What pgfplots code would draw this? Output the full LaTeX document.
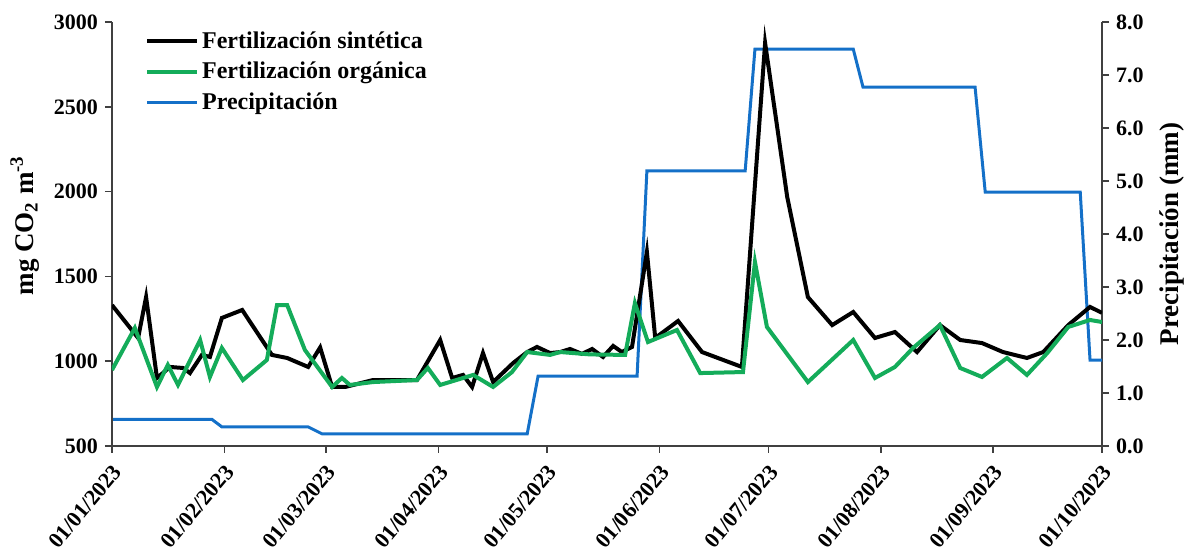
\documentclass[border=0pt]{standalone}
\usepackage{fontspec}
\setmainfont{Liberation Serif}
\usepackage{pgfplots}
\pgfplotsset{compat=1.18}
\definecolor{gorg}{RGB}{20,172,90}
\definecolor{bprec}{RGB}{20,112,200}
\definecolor{axc}{RGB}{64,64,64}
\begin{document}
\begin{tikzpicture}
\pgfplotsset{
 common/.style={
  scale only axis, width=495pt, height=212pt,
  xmin=0, xmax=273,
  axis line style={axc, line width=0.75pt},
  tick style={axc, line width=0.75pt},
  tick align=outside, major tick length=3.5pt,
  /pgf/number format/assume math mode=true,
  every tick label/.append style={font=\bfseries\fontsize{11}{13}\selectfont, text=black},
  label style={font=\bfseries\fontsize{13.5}{15}\selectfont},
 }
}
\begin{axis}[common,
  ymin=0, ymax=8,
  axis y line*=right, axis x line=none,
  ytick={0,1,2,3,4,5,6,7,8},
  yticklabel style={/pgf/number format/.cd, fixed, fixed zerofill, precision=1},
  ylabel={Precipitación (mm)},
  ylabel style={at={(axis description cs:1.071,0.5)}, anchor=center},
]
\addplot[bprec, line width=1.5pt] coordinates {
(0,0.50) (27.6,0.50) (30.3,0.36) (54.1,0.36) (57.9,0.23) (114.5,0.23)
(117.5,1.32) (144.8,1.32) (147.5,5.19) (174.6,5.19) (177.3,7.49) (204.4,7.49)
(207.1,6.77) (238,6.77) (240.8,4.79) (267,4.79) (269.7,1.62) (273,1.62)
};
\end{axis}
\begin{axis}[common,
  ymin=500, ymax=3000,
  axis x line*=bottom, axis y line*=left,
  xtick={0,31,59,90,120,151,181,212,243,273},
  xticklabels={01/01/2023,01/02/2023,01/03/2023,01/04/2023,01/05/2023,01/06/2023,01/07/2023,01/08/2023,01/09/2023,01/10/2023},
  xticklabel style={rotate=50, anchor=north east, inner sep=1pt, xshift=-3pt, yshift=-2pt},
  ytick={500,1000,1500,2000,2500,3000},
  yticklabel style={/pgf/number format/.cd, 1000 sep={}},
  ylabel={mg CO\textsubscript{2} m\textsuperscript{-3}},
  ylabel style={at={(axis description cs:-0.088,0.52)}, anchor=center},
  legend style={at={(0.027,0.995)}, anchor=north west, draw=none, fill=none,
    font=\bfseries\fontsize{12}{14}\selectfont, row sep=2.5pt, nodes={inner sep=1.5pt}},
  legend cell align=left,
  legend image code/.code={\draw[#1] (0pt,0pt) -- (25pt,0pt);},
]
\addplot[black, line width=2pt] coordinates {
(0,1331) (7.2,1137) (9.4,1378) (12.4,901) (16.0,966) (19.6,960) (21.5,930)
(24.8,1037) (27.0,1025) (30.3,1255) (35.9,1302) (44.1,1037) (48.3,1019)
(54.1,966) (57.4,1081) (60.7,848) (64.3,848) (72.0,889) (84.1,889)
(90.5,1125) (93.8,901) (96.8,919) (99.3,848) (102.3,1048) (105.1,877)
(110.6,989) (114.5,1054) (117.2,1084) (120.8,1048) (123.6,1054) (126.3,1072)
(129.6,1043) (132.4,1072) (135.4,1025) (138.2,1090) (140.6,1054) (143.4,1084)
(147.5,1644) (149.8,1137) (156.1,1237) (162.7,1054) (173.7,966) (180.1,2876)
(186.2,1968) (191.9,1378) (198.6,1213) (204.4,1290) (210.4,1137) (215.9,1172)
(222.0,1054) (228.3,1213) (233.9,1125) (239.9,1107) (245.7,1054) (252.3,1019)
(256.8,1054) (263.7,1213) (269.7,1320) (273,1285)
};
\addlegendentry{Fertilización sintética}
\addplot[gorg, line width=2pt] coordinates {
(0,948) (6.3,1196) (12.4,848) (15.4,978) (18.2,860) (24.3,1125) (27.0,907)
(30.3,1078) (36.1,889) (42.7,1007) (45.5,1331) (48.3,1331) (53.2,1066)
(60.7,848) (63.4,901) (65.6,860) (72.0,877) (84.1,889) (87.1,960) (90.5,860)
(99.6,919) (105.1,848) (110.3,936) (114.5,1054) (120.8,1037) (123.6,1054)
(131.8,1040) (141.5,1037) (144.2,1343) (147.8,1113) (155.8,1184) (162.2,930)
(174.0,936) (177.3,1585) (180.6,1202) (191.9,877) (204.4,1125) (210.4,901)
(215.9,966) (220.9,1078) (228.3,1213) (233.9,960) (239.9,907) (246.8,1019)
(252.3,919) (257.9,1048) (263.7,1202) (269.7,1243) (273,1231)
};
\addlegendentry{Fertilización orgánica}
\addlegendimage{bprec, line width=1.5pt}
\addlegendentry{Precipitación}
\coordinate (o) at (rel axis cs:0,0);
\end{axis}
\pgfresetboundingbox
\path (o) ++(-56pt,-52.5pt) rectangle ++(595pt,275.5pt);
\end{tikzpicture}
\end{document}
